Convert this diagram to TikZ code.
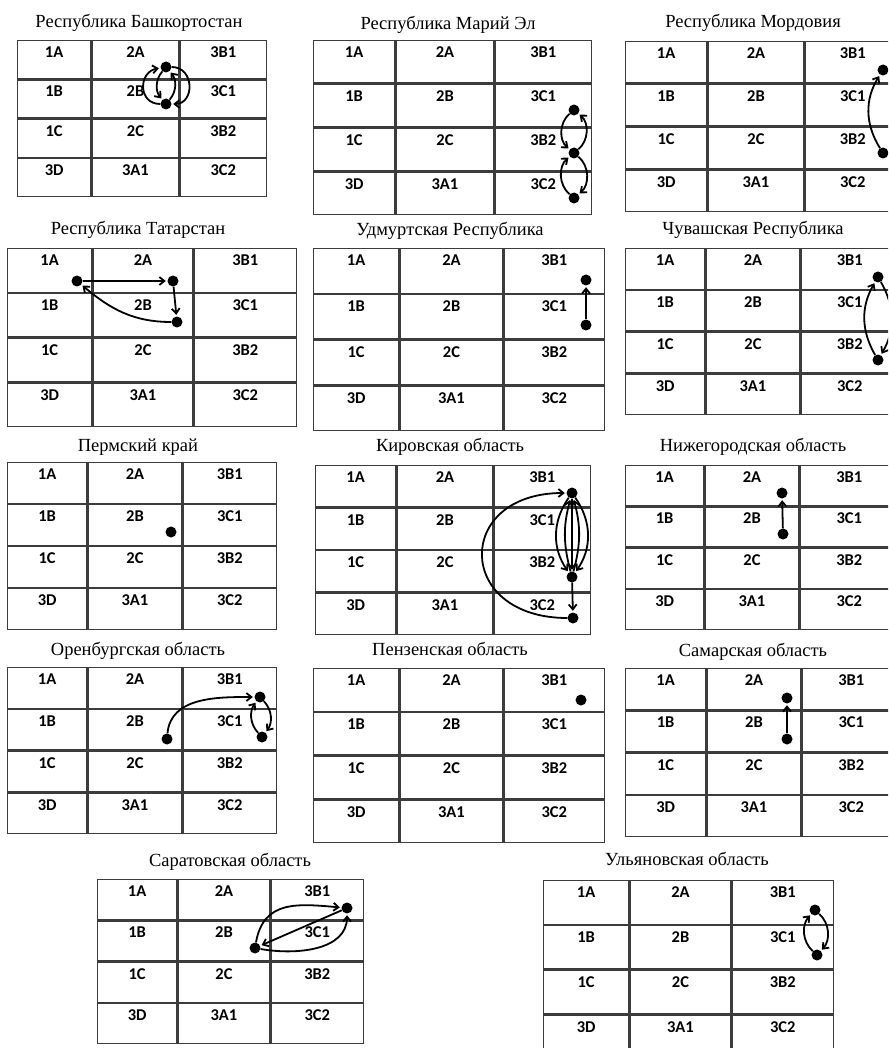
\documentclass[tikz,border=0pt]{standalone}
\usepackage{fontspec}
\setmainfont{Liberation Serif}
\newfontfamily\cellfont{Carlito}
\usetikzlibrary{arrows.meta, positioning, matrix}
\definecolor{tableLine}{RGB}{60, 60, 60}
\tikzset{
  Title/.style       = {font=\fontsize{18.5}{20}\selectfont, anchor=base, inner sep=0pt},
  Cell/.style        = {draw=tableLine, line width=1.3pt, inner sep=0pt, outer sep=0pt,
                        font=\cellfont\bfseries\fontsize{16.5}{18}\selectfont,
                        text height=17pt},
  % widths of the three columns, then the text depth (row height less 17pt)
  RegionTable/.style n args = {4}{matrix of nodes, inner sep=0pt, outer sep=0pt,
                        anchor=north west, column sep=0pt, row sep=0pt,
                        nodes={Cell, text depth=#4},
                        column 1/.style={nodes={minimum width=#1}},
                        column 2/.style={nodes={minimum width=#2}},
                        column 3/.style={nodes={minimum width=#3}}},
  Dot/.style         = {circle, fill=black, inner sep=0pt, minimum size=11pt},
  Flow/.style        = {line width=1.8pt, shorten >=1.5pt,
                        -{Straight Barb[length=5pt, width=8pt]}},
}

\begin{document}
\begin{tikzpicture}[x=1pt, y=1pt]
  \useasboundingbox (0,0) rectangle (888,-1048);
  \clip (0,0) rectangle (888,-1048);

  % row 1
  \node[Title] (ba-t) at (139,-27.5) {Республика Башкортостан};
  \matrix (ba) [RegionTable={73pt}{87pt}{86pt}{21pt}] at (17,-40)
    {1A & 2A & 3B1\\ 1B & 2B & 3C1\\ 1C & 2C & 3B2\\ 3D & 3A1 & 3C2\\};
  \node[Dot] (ba1) at (166,-67) {};
  \node[Dot] (ba2) at (166,-104) {};
  \draw[Flow] (ba2) to[out=180, in=190, looseness=1.6] (ba1);
  \draw[Flow] (ba1) to[out=0, in=0, looseness=1.6] (ba2);
  \draw[Flow] (ba1) to[bend right=40] (ba2);
  \draw[Flow] (ba2) to[bend right=40] (ba1);

  \node[Title] (me-t) at (448,-29.5) {Республика Марий Эл};
  \matrix (me) [RegionTable={81pt}{98pt}{96pt}{25.5pt}] at (313,-40)
    {1A & 2A & 3B1\\ 1B & 2B & 3C1\\ 1C & 2C & 3B2\\ 3D & 3A1 & 3C2\\};
  \node[Dot] (me1) at (574,-110) {};
  \node[Dot] (me2) at (574,-153) {};
  \node[Dot] (me3) at (574,-198) {};
  \draw[Flow] (me1) to[bend right=50] (me2);
  \draw[Flow] (me2) to[bend right=50] (me1);
  \draw[Flow] (me3) to[bend left=50] (me2);
  \draw[Flow] (me2) to[bend left=50] (me3);

  \node[Title] (mo-t) at (753,-27.5) {Республика Мордовия};
  \matrix (mo) [RegionTable={81pt}{96pt}{95pt}{24.5pt}] at (625,-41)
    {1A & 2A & 3B1\\ 1B & 2B & 3C1\\ 1C & 2C & 3B2\\ 3D & 3A1 & 3C2\\};
  \node[Dot] (mo1) at (883,-70) {};
  \node[Dot] (mo2) at (883,-153) {};
  \draw[Flow] (mo2) to[bend left=32] (mo1);

  % row 2
  \node[Title] (ta-t) at (138,-235) {Республика Татарстан};
  \matrix (ta) [RegionTable={84pt}{100pt}{102pt}{26.5pt}] at (7,-248)
    {1A & 2A & 3B1\\ 1B & 2B & 3C1\\ 1C & 2C & 3B2\\ 3D & 3A1 & 3C2\\};
  \node[Dot] (ta1) at (77,-281) {};
  \node[Dot] (ta2) at (173,-281) {};
  \node[Dot] (ta3) at (177,-322) {};
  \draw[Flow] (ta1) -- (ta2);
  \draw[Flow] (ta2) -- (ta3);
  \draw[Flow] (ta3) to[out=180, in=-40] (ta1);

  \node[Title] (ud-t) at (450,-235.5) {Удмуртская Республика};
  \matrix (ud) [RegionTable={85pt}{103pt}{100pt}{27.5pt}] at (313,-248)
    {1A & 2A & 3B1\\ 1B & 2B & 3C1\\ 1C & 2C & 3B2\\ 3D & 3A1 & 3C2\\};
  \node[Dot] (ud1) at (586,-280) {};
  \node[Dot] (ud2) at (586,-325) {};
  \draw[Flow] (ud2) -- (ud1);

  \node[Title] (ch-t) at (753,-234.5) {Чувашская Республика};
  \matrix (ch) [RegionTable={79pt}{94pt}{97pt}{23.5pt}] at (625,-248)
    {1A & 2A & 3B1\\ 1B & 2B & 3C1\\ 1C & 2C & 3B2\\ 3D & 3A1 & 3C2\\};
  \node[Dot] (ch1) at (878,-277) {};
  \node[Dot] (ch2) at (878,-360) {};
  \draw[Flow] (ch2) to[bend left=30] (ch1);
  \draw[Flow] (ch1) to[bend left=30] (ch2);

  % row 3
  \node[Title] (pe-t) at (138,-451.5) {Пермский край};
  \matrix (pe) [RegionTable={79pt}{94pt}{93pt}{23.75pt}] at (7,-462)
    {1A & 2A & 3B1\\ 1B & 2B & 3C1\\ 1C & 2C & 3B2\\ 3D & 3A1 & 3C2\\};
  \node[Dot] (pe1) at (171,-532) {};

  \node[Title] (ki-t) at (450,-451.5) {Кировская область};
  \matrix (ki) [RegionTable={80pt}{96pt}{96pt}{24.25pt}] at (315,-465)
    {1A & 2A & 3B1\\ 1B & 2B & 3C1\\ 1C & 2C & 3B2\\ 3D & 3A1 & 3C2\\};
  \node[Dot] (ki1) at (572,-493) {};
  \node[Dot] (ki2) at (572,-577) {};
  \node[Dot] (ki3) at (573,-618) {};
  \draw[Flow] (ki3) to[out=180, in=180, looseness=2.3] (ki1);
  \draw[Flow] (ki2) -- (ki3);
  \draw[Flow] (ki1) to[bend right=35] (ki2);
  \draw[Flow] (ki1) -- (ki2);
  \draw[Flow] (ki1) to[bend left=35] (ki2);
  \draw[Flow] (ki2) to[bend left=15] (ki1);
  \draw[Flow] (ki2) to[bend right=15] (ki1);

  \node[Title] (ni-t) at (753,-451.5) {Нижегородская область};
  \matrix (ni) [RegionTable={78pt}{94pt}{98pt}{23pt}] at (625,-465)
    {1A & 2A & 3B1\\ 1B & 2B & 3C1\\ 1C & 2C & 3B2\\ 3D & 3A1 & 3C2\\};
  \node[Dot] (ni1) at (782,-493) {};
  \node[Dot] (ni2) at (783,-534) {};
  \draw[Flow] (ni2) -- (ni1);

  % row 4
  \node[Title] (or-t) at (138,-655) {Оренбургская область};
  \matrix (or) [RegionTable={79pt}{94pt}{93pt}{23.5pt}] at (7,-667)
    {1A & 2A & 3B1\\ 1B & 2B & 3C1\\ 1C & 2C & 3B2\\ 3D & 3A1 & 3C2\\};
  \node[Dot] (or1) at (167,-739) {};
  \node[Dot] (or2) at (260,-697) {};
  \node[Dot] (or3) at (262,-737) {};
  \draw[Flow] (or1) to[out=85, in=180] (or2);
  \draw[Flow] (or3) to[bend left=40] (or2);
  \draw[Flow] (or2) to[bend left=40] (or3);

  \node[Title] (pz-t) at (450,-655) {Пензенская область};
  \matrix (pz) [RegionTable={85pt}{103pt}{100pt}{25.5pt}] at (313,-668)
    {1A & 2A & 3B1\\ 1B & 2B & 3C1\\ 1C & 2C & 3B2\\ 3D & 3A1 & 3C2\\};
  \node[Dot] (pz1) at (581,-700) {};

  \node[Title] (sa-t) at (753,-656.5) {Самарская область};
  \matrix (sa) [RegionTable={80pt}{94pt}{98pt}{24pt}] at (625,-668)
    {1A & 2A & 3B1\\ 1B & 2B & 3C1\\ 1C & 2C & 3B2\\ 3D & 3A1 & 3C2\\};
  \node[Dot] (sa1) at (787,-698) {};
  \node[Dot] (sa2) at (787,-739) {};
  \draw[Flow] (sa2) -- (sa1);

  % row 5
  \node[Title] (sr-t) at (230,-866) {Саратовская область};
  \matrix (sr) [RegionTable={79pt}{92pt}{92pt}{23pt}] at (97,-879)
    {1A & 2A & 3B1\\ 1B & 2B & 3C1\\ 1C & 2C & 3B2\\ 3D & 3A1 & 3C2\\};
  \node[Dot] (sr1) at (255,-948) {};
  \node[Dot] (sr2) at (347,-908) {};
  \draw[Flow] (sr1) to[out=80, in=175, looseness=1.2] (sr2);
  \draw[Flow] (sr2) -- (sr1);
  \draw[Flow] (sr1) to[out=-10, in=-90] (sr2);

  \node[Title] (ul-t) at (687,-865) {Ульяновская область};
  \matrix (ul) [RegionTable={85pt}{101pt}{101pt}{26.5pt},
                row 4/.style={nodes={text depth=17pt}}] at (543,-880)
    {1A & 2A & 3B1\\ 1B & 2B & 3C1\\ 1C & 2C & 3B2\\ 3D & 3A1 & 3C2\\};
  \node[Dot] (ul1) at (815,-910) {};
  \node[Dot] (ul2) at (817,-955) {};
  \draw[Flow] (ul2) to[bend left=45] (ul1);
  \draw[Flow] (ul1) to[bend left=45] (ul2);
\end{tikzpicture}
\end{document}
